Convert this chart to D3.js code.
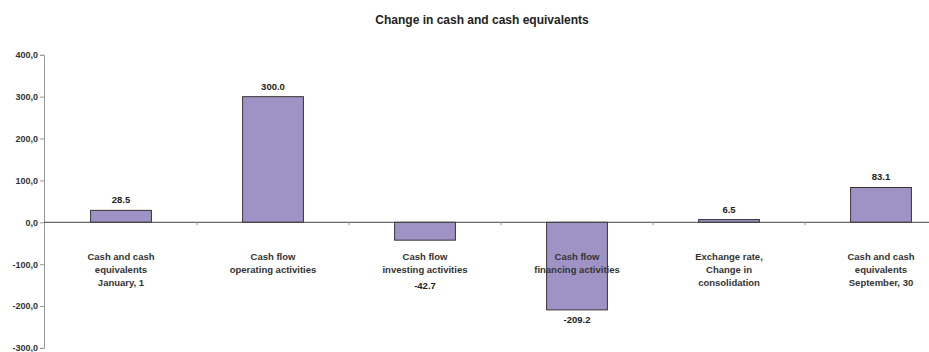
<!DOCTYPE html>
<html>
<head>
<meta charset="utf-8">
<script src="https://cdn.jsdelivr.net/npm/d3@7"></script>
<style>
  body { margin: 0; background: #fff; }
  text { font-family: "Liberation Sans", Arial, sans-serif; }
</style>
</head>
<body>
<svg id="chart" width="929" height="352"></svg>
<script>
const categories = [
  ["Cash and cash", "equivalents", "January, 1"],
  ["Cash flow", "operating activities"],
  ["Cash flow", "investing activities"],
  ["Cash flow", "financing activities"],
  ["Exchange rate,", "Change in", "consolidation"],
  ["Cash and cash", "equivalents", "September, 30"]
];
const values = [28.5, 300.0, -42.7, -209.2, 6.5, 83.1];
const yTicks = [400, 300, 200, 100, 0, -100, -200, -300];
const title = "Change in cash and cash equivalents";

const svg = d3.select("#chart");
const fmt = d => d3.format(".1f")(d).replace("\u2212", "-");

const x = d3.scaleBand()
  .domain(d3.range(categories.length))
  .range([45, 957])
  .paddingInner(0.6)
  .paddingOuter(0.3);

const y = d3.scaleLinear()
  .domain([-300, 400])
  .range([347.9, 54.8]);

// title
svg.append("text")
  .attr("x", 482)
  .attr("y", 24)
  .attr("text-anchor", "middle")
  .attr("font-size", 12)
  .attr("font-weight", "bold")
  .attr("fill", "#222")
  .text(title);

// y axis
const yAxis = svg.append("g")
  .attr("transform", "translate(44,0)")
  .call(d3.axisLeft(y).tickValues(yTicks).tickSize(4).tickFormat(d => fmt(d).replace(".", ",")));
yAxis.select(".domain").attr("stroke", "#999");
yAxis.selectAll(".tick line").attr("stroke", "#999");
yAxis.selectAll(".tick text")
  .attr("font-size", 9)
  .attr("font-weight", "bold")
  .attr("fill", "#333")
  .attr("x", -6);

// bars
svg.selectAll(".bar")
  .data(values)
  .enter().append("rect")
  .attr("class", "bar")
  .attr("x", (d, i) => x(i))
  .attr("width", x.bandwidth())
  .attr("y", d => y(Math.max(0, d)))
  .attr("height", d => Math.abs(y(d) - y(0)))
  .attr("fill", "#9f93c6")
  .attr("stroke", "#333")
  .attr("stroke-width", 1);

// zero line with category ticks
svg.append("line")
  .attr("x1", 44).attr("x2", 929)
  .attr("y1", y(0)).attr("y2", y(0))
  .attr("stroke", "#444")
  .attr("stroke-width", 1);

svg.selectAll(".ctick")
  .data(d3.range(1, categories.length))
  .enter().append("line")
  .attr("class", "ctick")
  .attr("x1", i => x(i) - x.step() * x.paddingInner() / 2)
  .attr("x2", i => x(i) - x.step() * x.paddingInner() / 2)
  .attr("y1", y(0)).attr("y2", y(0) + 3)
  .attr("stroke", "#999");

// category labels
const catG = svg.selectAll(".cat")
  .data(categories)
  .enter().append("text")
  .attr("class", "cat")
  .attr("text-anchor", "middle")
  .attr("font-size", 9.5)
  .attr("font-weight", "bold")
  .attr("fill", "#333");
catG.selectAll("tspan")
  .data((d, i) => d.map(t => ({ t, i })))
  .enter().append("tspan")
  .attr("x", d => x(d.i) + x.bandwidth() / 2)
  .attr("y", (d, j) => 260 + j * 12.8)
  .text(d => d.t);

// value labels
svg.selectAll(".val")
  .data(values)
  .enter().append("text")
  .attr("class", "val")
  .attr("text-anchor", "middle")
  .attr("font-size", 9.5)
  .attr("font-weight", "bold")
  .attr("fill", "#222")
  .attr("x", (d, i) => x(i) + x.bandwidth() / 2)
  .attr("y", d => d >= 0 ? y(d) - 7 : Math.max(y(d) + 13, 288.5))
  .text(d => fmt(d));
</script>
</body>
</html>
